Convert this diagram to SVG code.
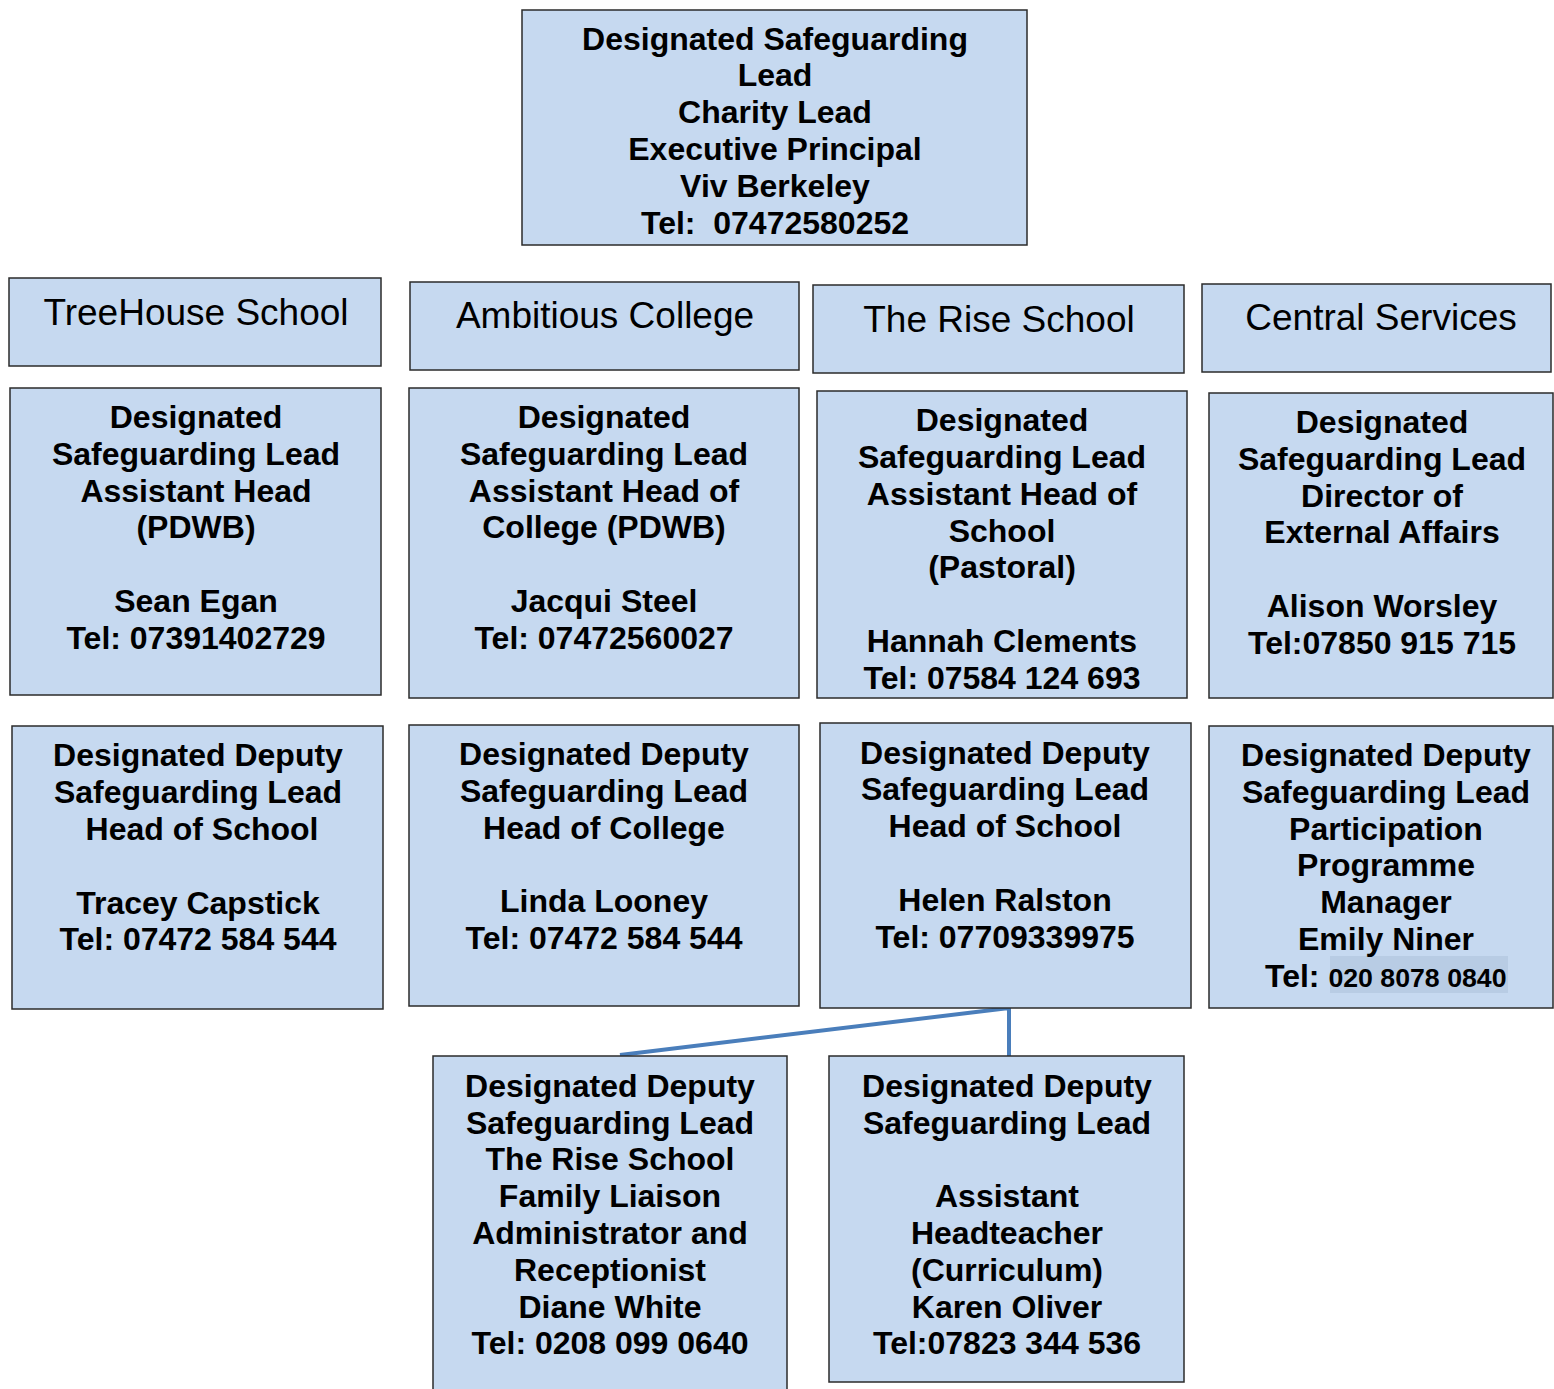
<svg xmlns="http://www.w3.org/2000/svg" width="1554" height="1389" viewBox="0 0 1554 1389">
<style>
rect.box{fill:#C6D9F0;stroke:#2b2b2b;stroke-width:1.5}
text{font-family:"Liberation Sans",Arial,sans-serif;fill:#000;text-anchor:middle}
text.b{font-weight:bold;font-size:32px}
text.h{font-size:37px}
.conn{stroke:#4A7EBB;stroke-width:4;fill:none}
</style>
<rect width="1554" height="1389" fill="#fff"/>
<g id="connectors">
<polyline class="conn" points="620,1055 1009,1008 1009,1056"/>
</g>
<g id="n-top">
<rect class="box" x="522" y="10" width="505" height="235"/>
<text class="b" xml:space="preserve"><tspan x="775" y="50">Designated Safeguarding</tspan><tspan x="775" y="86">Lead</tspan><tspan x="775" y="123">Charity Lead</tspan><tspan x="775" y="160">Executive Principal</tspan><tspan x="775" y="197">Viv Berkeley</tspan><tspan x="775" y="234">Tel:  07472580252</tspan></text>
</g>
<g id="h-treehouse">
<rect class="box" x="9" y="278" width="372" height="88"/>
<text class="h" x="196" y="325">TreeHouse School</text>
</g>
<g id="h-ambitious">
<rect class="box" x="410" y="282" width="389" height="88"/>
<text class="h" x="605" y="328">Ambitious College</text>
</g>
<g id="h-rise">
<rect class="box" x="813" y="285" width="371" height="88"/>
<text class="h" x="999" y="332">The Rise School</text>
</g>
<g id="h-central">
<rect class="box" x="1202" y="284" width="349" height="88"/>
<text class="h" x="1381" y="330">Central Services</text>
</g>
<g id="dsl-treehouse">
<rect class="box" x="10" y="388" width="371" height="307"/>
<text class="b"><tspan x="196" y="428">Designated</tspan><tspan x="196" y="465">Safeguarding Lead</tspan><tspan x="196" y="502">Assistant Head</tspan><tspan x="196" y="538">(PDWB)</tspan><tspan x="196" y="612">Sean Egan</tspan><tspan x="196" y="649">Tel: 07391402729</tspan></text>
</g>
<g id="dsl-ambitious">
<rect class="box" x="409" y="388" width="390" height="310"/>
<text class="b"><tspan x="604" y="428">Designated</tspan><tspan x="604" y="465">Safeguarding Lead</tspan><tspan x="604" y="502">Assistant Head of</tspan><tspan x="604" y="538">College (PDWB)</tspan><tspan x="604" y="612">Jacqui Steel</tspan><tspan x="604" y="649">Tel: 07472560027</tspan></text>
</g>
<g id="dsl-rise">
<rect class="box" x="817" y="391" width="370" height="307"/>
<text class="b"><tspan x="1002" y="431">Designated</tspan><tspan x="1002" y="468">Safeguarding Lead</tspan><tspan x="1002" y="505">Assistant Head of</tspan><tspan x="1002" y="542">School</tspan><tspan x="1002" y="578">(Pastoral)</tspan><tspan x="1002" y="652">Hannah Clements</tspan><tspan x="1002" y="689">Tel: 07584 124 693</tspan></text>
</g>
<g id="dsl-central">
<rect class="box" x="1209" y="393" width="344" height="305"/>
<text class="b"><tspan x="1382" y="433">Designated</tspan><tspan x="1382" y="470">Safeguarding Lead</tspan><tspan x="1382" y="507">Director of</tspan><tspan x="1382" y="543">External Affairs</tspan><tspan x="1382" y="617">Alison Worsley</tspan><tspan x="1382" y="654">Tel:07850 915 715</tspan></text>
</g>
<g id="ddsl-treehouse">
<rect class="box" x="12" y="726" width="371" height="283"/>
<text class="b"><tspan x="198" y="766">Designated Deputy</tspan><tspan x="198" y="803">Safeguarding Lead</tspan><tspan x="202" y="840">Head of School</tspan><tspan x="198" y="914">Tracey Capstick</tspan><tspan x="198" y="950">Tel: 07472 584 544</tspan></text>
</g>
<g id="ddsl-ambitious">
<rect class="box" x="409" y="725" width="390" height="281"/>
<text class="b"><tspan x="604" y="765">Designated Deputy</tspan><tspan x="604" y="802">Safeguarding Lead</tspan><tspan x="604" y="839">Head of College</tspan><tspan x="604" y="912">Linda Looney</tspan><tspan x="604" y="949">Tel: 07472 584 544</tspan></text>
</g>
<g id="ddsl-rise">
<rect class="box" x="820" y="723" width="371" height="285"/>
<text class="b"><tspan x="1005" y="764">Designated Deputy</tspan><tspan x="1005" y="800">Safeguarding Lead</tspan><tspan x="1005" y="837">Head of School</tspan><tspan x="1005" y="911">Helen Ralston</tspan><tspan x="1005" y="948">Tel: 07709339975</tspan></text>
</g>
<g id="ddsl-central">
<rect class="box" x="1209" y="726" width="344" height="282"/>
<rect x="1330" y="956" width="178" height="37" fill="#B8CCE4"/>
<text class="b"><tspan x="1386" y="766">Designated Deputy</tspan><tspan x="1386" y="803">Safeguarding Lead</tspan><tspan x="1386" y="840">Participation</tspan><tspan x="1386" y="876">Programme</tspan><tspan x="1386" y="913">Manager</tspan><tspan x="1386" y="950">Emily Niner</tspan></text>
<text class="b" x="1265" y="987" style="text-anchor:start">Tel: <tspan font-size="26.7">020 8078 0840</tspan></text>
</g>
<g id="ddsl-rise-2">
<rect class="box" x="433" y="1056" width="354" height="340"/>
<text class="b"><tspan x="610" y="1097">Designated Deputy</tspan><tspan x="610" y="1134">Safeguarding Lead</tspan><tspan x="610" y="1170">The Rise School</tspan><tspan x="610" y="1207">Family Liaison</tspan><tspan x="610" y="1244">Administrator and</tspan><tspan x="610" y="1281">Receptionist</tspan><tspan x="610" y="1318">Diane White</tspan><tspan x="610" y="1354">Tel: 0208 099 0640</tspan></text>
</g>
<g id="ddsl-rise-3">
<rect class="box" x="829" y="1056" width="355" height="326"/>
<text class="b"><tspan x="1007" y="1097">Designated Deputy</tspan><tspan x="1007" y="1134">Safeguarding Lead</tspan><tspan x="1007" y="1207">Assistant</tspan><tspan x="1007" y="1244">Headteacher</tspan><tspan x="1007" y="1281">(Curriculum)</tspan><tspan x="1007" y="1318">Karen Oliver</tspan><tspan x="1007" y="1354">Tel:07823 344 536</tspan></text>
</g>
</svg>
